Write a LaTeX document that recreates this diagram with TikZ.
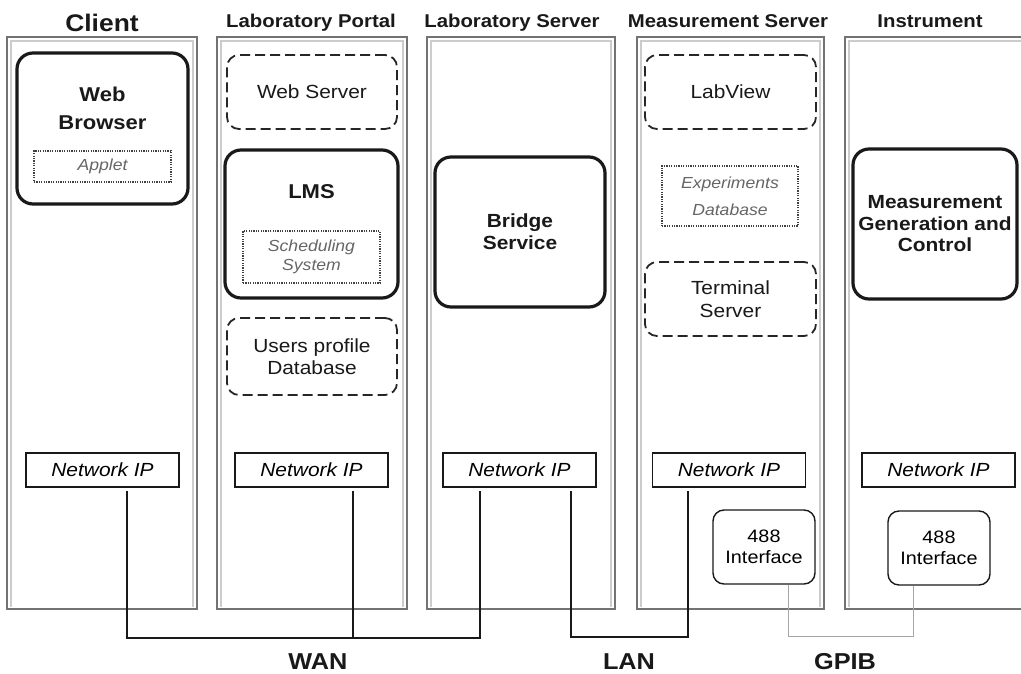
\documentclass[tikz,border=0pt]{standalone}
\usepackage{fontspec}
\setmainfont{Liberation Sans}[FakeStretch=1.1]
\usetikzlibrary{calc}

\tikzset{
  x=1pt, y=-1pt,
  frameout/.style={draw=black!55, line width=1.6pt},
  framein/.style={draw=gray!40, line width=2pt},
  thickbox/.style={draw=black!90, line width=3.2pt, rounded corners=16pt, inner sep=0pt},
  dashbox/.style={draw=black!85, line width=1.8pt, dash pattern=on 10pt off 5pt, rounded corners=12pt, inner sep=0pt},
  dotbox/.style={draw=black!75, line width=1.1pt, dash pattern=on 1.2pt off 1.2pt, inner sep=0pt},
  ipbox/.style={draw=black!90, line width=1.6pt, minimum width=153pt, minimum height=34pt, inner sep=0pt,
    font=\fontsize{19}{23}\selectfont\itshape},
  ifacebox/.style={draw=black!90, line width=1.4pt, rounded corners=11pt, minimum width=102pt, minimum height=74pt,
    inner sep=0pt, align=center, font=\fontsize{18}{21}\selectfont},
  title/.style={anchor=base, font=\fontsize{18.5}{22}\selectfont\bfseries, text=black!90},
  boldtxt/.style={align=center, text=black!90, font=\fontsize{19}{22}\selectfont\bfseries},
  plaintxt/.style={align=center, text=black!90, font=\fontsize{19}{22}\selectfont},
  greytxt/.style={align=center, text=black!60, font=\fontsize{16}{19}\selectfont\itshape},
  wire/.style={draw=black!90, line width=1.6pt},
  thinwire/.style={draw=gray!70, line width=0.9pt},
  netlabel/.style={anchor=base, inner sep=0pt, font=\fontsize{23}{26}\selectfont\bfseries, text=black!90},
}

\begin{document}
\begin{tikzpicture}
\useasboundingbox (0,0) rectangle (1021,673);
\fill[white] (0,0) rectangle (1021,673);

% column frames: dark outer line with a light inner bevel
\foreach \xa/\xb in {7/197, 217/407, 427/615, 637/824, 845/1040}{
  \draw[framein] (\xa+4,607) -- (\xa+4,41) -- (\xb-4,41) -- (\xb-4,607);
  \draw[frameout] (\xa,609) -- (\xa,37) -- (\xb,37) -- (\xb,609) -- cycle;
}

% column titles
\node[title, font=\fontsize{24}{28}\selectfont\bfseries] (tclient) at (102,31) {Client};
\node[title] (tportal) at (311,27) {Laboratory Portal};
\node[title] (tlabsrv) at (512,27) {Laboratory Server};
\node[title] (tmeassrv) at (728,27) {Measurement Server};
\node[title] (tinstr) at (930,27) {Instrument};

% client
\node[thickbox, minimum width=171pt, minimum height=151pt] (browser) at (102.5,128.5) {};
\node[boldtxt, font=\fontsize{20}{28}\selectfont\bfseries] (browsertxt) at (102.5,108) {Web\\Browser};
\node[dotbox, minimum width=137pt, minimum height=31pt, greytxt] (applet) at (102.5,166.5) {Applet};

% laboratory portal
\node[dashbox, minimum width=170pt, minimum height=74pt, plaintxt] (websrv) at (312,92) {Web Server};
\node[thickbox, minimum width=173pt, minimum height=148pt] (lms) at (311.5,224) {};
\node[boldtxt, font=\fontsize{20}{24}\selectfont\bfseries] (lmstxt) at (311.5,192) {LMS};
\node[dotbox, minimum width=137pt, minimum height=52pt, greytxt] (sched) at (311.5,257) {Scheduling\\System};
\node[dashbox, minimum width=170pt, minimum height=77pt, plaintxt] (users) at (312,356.5) {Users profile\\Database};

% laboratory server
\node[thickbox, minimum width=170pt, minimum height=150pt, boldtxt] (bridge) at (520,232) {Bridge\\Service};

% measurement server
\node[dashbox, minimum width=171pt, minimum height=74pt, plaintxt] (labview) at (730.5,92) {LabView};
\node[dotbox, minimum width=136pt, minimum height=60pt, greytxt, font=\fontsize{16}{27}\selectfont\itshape] (expdb) at (730,196) {Experiments\\Database};
\node[dashbox, minimum width=171pt, minimum height=74pt, plaintxt, font=\fontsize{19}{23}\selectfont] (term) at (730.5,299) {Terminal\\Server};

% instrument
\node[thickbox, minimum width=164pt, minimum height=150pt, boldtxt, font=\fontsize{19}{21.5}\selectfont\bfseries] (mgc) at (935,224) {Measurement\\Generation and\\Control};

% network interfaces
\node[ipbox] (ipclient) at (102.5,470) {Network IP};
\node[ipbox] (ipportal) at (311.5,470) {Network IP};
\node[ipbox] (iplabsrv) at (519.5,470) {Network IP};
\node[ipbox] (ipmeas) at (729,470) {Network IP};
\node[ipbox] (ipinstr) at (938.5,470) {Network IP};

% GPIB interfaces
\node[ifacebox] (gpibmeas) at (764,547) {488\\Interface};
\node[ifacebox] (gpibinstr) at (939,548) {488\\Interface};

% WAN
\coordinate (wanjoin) at ($(ipportal.south)+(41.5,150)$);
\draw[wire] ([xshift=24.5pt,yshift=-3pt]ipclient.south) |- (wanjoin)
  -| ([xshift=-39.5pt,yshift=-3pt]iplabsrv.south);
\draw[wire] ([xshift=41.5pt,yshift=-3pt]ipportal.south) -- (wanjoin);

% LAN
\draw[wire] ([xshift=51.5pt,yshift=-3pt]iplabsrv.south) -- ++(0,146)
  -| ([xshift=-41pt,yshift=-3pt]ipmeas.south);

% GPIB
\draw[thinwire] ([xshift=24pt]gpibmeas.south) -- ++(0,52)
  -| ([xshift=-26pt]gpibinstr.south);

% network labels
\node[netlabel] (wan) at (318,669) {WAN};
\node[netlabel] (lan) at (629,669) {LAN};
\node[netlabel] (gpib) at (845,669) {GPIB};
\end{tikzpicture}
\end{document}
